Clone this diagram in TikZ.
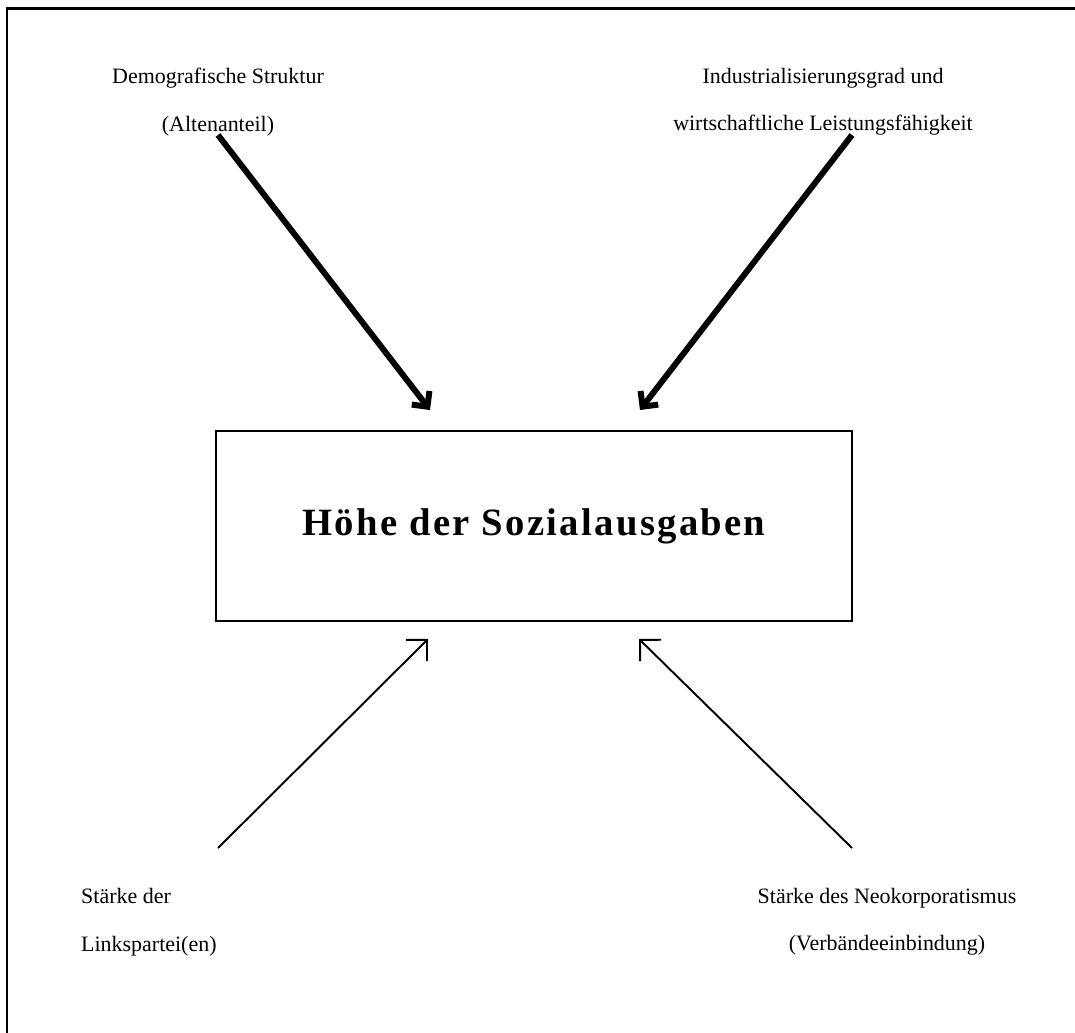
\documentclass[tikz,border=0pt]{standalone}
\usepackage{fontspec}
\setmainfont{Liberation Serif}
\usetikzlibrary{arrows.meta}

\begin{document}
\begin{tikzpicture}[x=0.02cm, y=-0.02cm,
	lbl/.style={align=center, font=\fontsize{12.5}{27}\selectfont},
	heavy/.style={line width=3.4pt, -{Straight Barb[angle=90:9pt]}},
	light/.style={line width=1.1pt, -{Straight Barb[angle=90:12pt]}}]
	\clip (0,0) rectangle (1075,1033);
	\draw[line width=1.7pt] (7,9) rectangle (1100,1060);

	\node[draw, line width=1.4pt, minimum width=12.72cm, minimum height=3.8cm, font=\bfseries\fontsize{22}{24}\selectfont\addfontfeature{LetterSpace=6}] (H) at (534,526) {Höhe der Sozialausgaben};

	\node[lbl] (D) at (218,102) {Demografische Struktur\\(Altenanteil)};
	\node[lbl] (I) at (823,102) {Industrialisierungsgrad und\\wirtschaftliche Leistungsfähigkeit};
	\node[lbl, align=left, anchor=west] (L) at (75,922) {Stärke der\\Linkspartei(en)};
	\node[lbl] (N) at (887,922) {Stärke des Neokorporatismus\\(Verbändeeinbindung)};

	\coordinate (D0) at (218,135);
	\coordinate (D1) at (430,410);
	\coordinate (I0) at (852,135);
	\coordinate (I1) at (640,410);
	\coordinate (L0) at (218,848);
	\coordinate (L1) at (428,639);
	\coordinate (N0) at (852,848);
	\coordinate (N1) at (639,639);

	\draw[heavy] (D0) -- (D1);
	\draw[heavy] (I0) -- (I1);
	\draw[light] (L0) -- (L1);
	\draw[light] (N0) -- (N1);
\end{tikzpicture}
\end{document}
